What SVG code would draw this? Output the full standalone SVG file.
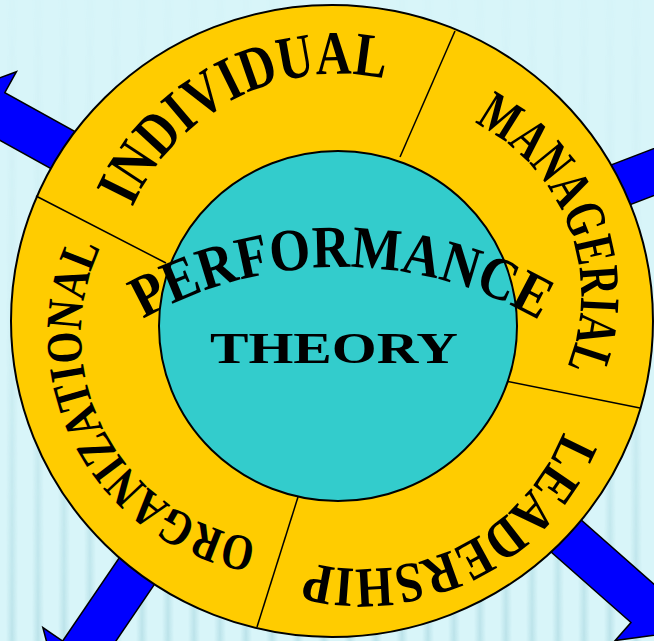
<svg xmlns="http://www.w3.org/2000/svg" width="654" height="641" viewBox="0 0 654 641">
  <defs>
    <style>
      .ring { font-family: "Liberation Serif", "Times New Roman", serif; font-weight: bold; fill: #000; }
      .arrow { fill: #0000FF; stroke: #000; stroke-width: 1.5; stroke-linejoin: miter; }
      .div { stroke: #000; stroke-width: 1.5; fill: none; }
    </style>
    <linearGradient id="stripeGrad" x1="0" y1="0" x2="1" y2="0">
      <stop offset="0" stop-color="#A9D8E0" stop-opacity="0"/>
      <stop offset="0.5" stop-color="#A9D8E0" stop-opacity="1"/>
      <stop offset="1" stop-color="#A9D8E0" stop-opacity="0"/>
    </linearGradient>
    <pattern id="stripes" x="0" y="0" width="26" height="641" patternUnits="userSpaceOnUse">
      <rect x="6" y="0" width="12" height="641" fill="url(#stripeGrad)"/>
    </pattern>
    <linearGradient id="fadeGrad" x1="0" y1="0" x2="0" y2="1">
      <stop offset="0" stop-color="#fff" stop-opacity="0.03"/>
      <stop offset="0.45" stop-color="#fff" stop-opacity="0.15"/>
      <stop offset="1" stop-color="#fff" stop-opacity="0.6"/>
    </linearGradient>
    <mask id="fadeMask">
      <rect width="654" height="641" fill="url(#fadeGrad)"/>
    </mask>
    <path id="pIndividual" d="M132.5,207.5 A225,225 0 0,1 384.8,78.9"/>
    <path id="pManagerial" d="M474.1,122.9 A192,192 0 0,1 566.9,367.2"/>
    <path id="pLeadership" d="M563.1,431.8 A216,216 0 0,1 307.2,561.9"/>
    <path id="pOrganizational" d="M256.9,538.8 A206,206 0 0,1 100.6,247.3"/>
    <path id="pPerformance" d="M143,319 A400,400 0 0,1 540,320.6"/>
  </defs>

  <rect id="background" width="654" height="641" fill="#D8F5F9"/>
  <rect width="654" height="641" fill="url(#stripes)" mask="url(#fadeMask)"/>

  <g id="arrows">
    <polygon class="arrow" transform="translate(337,302) rotate(209)" points="0,-22 392,-22 392,-46 432,0 392,46 392,22 0,22"/>
    <polygon class="arrow" transform="translate(319.5,300.4) rotate(-21)" points="0,-22 400,-22 400,-46 440,0 400,46 400,22 0,22"/>
    <polygon class="arrow" transform="translate(324.5,323) rotate(41.4)" points="0,-22 428,-22 428,-46 468,0 428,46 428,22 0,22"/>
    <polygon class="arrow" transform="translate(313.6,311) rotate(124.2)" points="0,-22 414,-22 414,-46 454,0 414,46 414,22 0,22"/>
  </g>

  <g id="ring">
    <ellipse cx="332" cy="321" rx="321" ry="316" fill="#FFCC00" stroke="#000" stroke-width="2"/>
  </g>

  <g id="connectors">
    <line class="div" x1="455" y1="31" x2="400" y2="157"/>
    <line class="div" x1="505" y1="381" x2="640" y2="408"/>
    <line class="div" x1="298" y1="497" x2="257" y2="627"/>
    <line class="div" x1="36" y1="196" x2="166" y2="263"/>
  </g>

  <g id="core">
    <ellipse cx="338" cy="326" rx="179" ry="175" fill="#33CCCC" stroke="#000" stroke-width="2"/>
  </g>

  <g id="individual">
    <text class="ring" font-size="62"><textPath href="#pIndividual" textLength="306" lengthAdjust="spacingAndGlyphs">INDIVIDUAL</textPath></text>
  </g>
  <g id="managerial">
    <text class="ring" font-size="57"><textPath href="#pManagerial" textLength="287" lengthAdjust="spacingAndGlyphs">MANAGERIAL</textPath></text>
  </g>
  <g id="leadership">
    <text class="ring" font-size="57"><textPath href="#pLeadership" textLength="314" lengthAdjust="spacingAndGlyphs">LEADERSHIP</textPath></text>
  </g>
  <g id="organizational">
    <text class="ring" font-size="51"><textPath href="#pOrganizational" textLength="384" lengthAdjust="spacingAndGlyphs">ORGANIZATIONAL</textPath></text>
  </g>
  <g id="performance">
    <text class="ring" font-size="60"><textPath href="#pPerformance" textLength="415" lengthAdjust="spacingAndGlyphs">PERFORMANCE</textPath></text>
  </g>
  <g id="theory">
    <text class="ring" x="210" y="363" font-size="45" textLength="248" lengthAdjust="spacingAndGlyphs">THEORY</text>
  </g>
</svg>
